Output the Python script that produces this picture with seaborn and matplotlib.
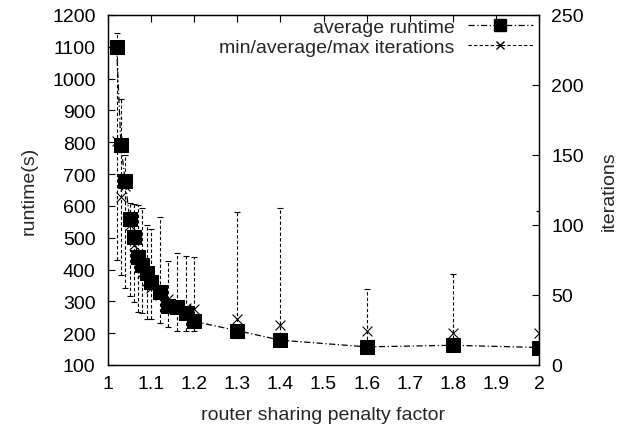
import matplotlib
matplotlib.use("Agg")
import matplotlib.pyplot as plt
import seaborn as sns
import pandas as pd
import numpy as np
from matplotlib.lines import Line2D

# ---- data ----
penalty = [1.02, 1.03, 1.04, 1.05, 1.06, 1.07, 1.08, 1.09, 1.10, 1.12,
           1.14, 1.16, 1.18, 1.20, 1.30, 1.40, 1.60, 1.80, 2.00]
runtime = [1100, 790, 677, 560, 502, 440, 413, 388, 360, 330,
           287, 283, 262, 237, 208, 178, 157, 162, 155]
iter_avg = [160, 120, 128, 100, 86, 76, 66, 60, 55, 50,
            47, 42, 41, 40, 33, 28.5, 24, 23, 23]
iter_min = [75, 64, 55, 49, 45, 38, 37, 33, 33, 30,
            27, 24, 24, 24, 19, 17, 14, 15, 14]
iter_max = [237, 190, 150, 116, 115, 114, 112, 100, 97, 106,
            74, 80, 78, 77, 109, 112, 54, 65, 110]

x_ticks = [1.0, 1.1, 1.2, 1.3, 1.4, 1.5, 1.6, 1.7, 1.8, 1.9, 2.0]
x_ticklabels = ["1", "1.1", "1.2", "1.3", "1.4", "1.5", "1.6", "1.7", "1.8", "1.9", "2"]
y_ticks = [100, 200, 300, 400, 500, 600, 700, 800, 900, 1000, 1100, 1200]
y2_ticks = [0, 50, 100, 150, 200, 250]

df = pd.DataFrame({"penalty": penalty, "runtime": runtime, "iter_avg": iter_avg,
                   "iter_min": iter_min, "iter_max": iter_max})

sns.set_theme(style="white")
plt.rcParams["font.family"] = ["Liberation Sans", "DejaVu Sans"]
FS = 14

fig = plt.figure(figsize=(6.21, 4.31), dpi=100)
ax = fig.add_axes([108 / 621, 1 - 366 / 431, (539 - 108) / 621, 350 / 431])
ax2 = ax.twinx()

# iterations: min/avg/max
yerr = np.array([df["iter_avg"] - df["iter_min"], df["iter_max"] - df["iter_avg"]])
eb = ax2.errorbar(df["penalty"], df["iter_avg"], yerr=yerr, fmt="none",
                  ecolor="black", elinewidth=0.8, capsize=2, capthick=0.8)
for lc in eb[2]:
    lc.set_linestyle((0, (3, 2)))
sns.scatterplot(data=df, x="penalty", y="iter_avg", ax=ax2, marker="x",
                color="black", s=50, linewidth=0.8, legend=False, zorder=3)

# runtime
sns.lineplot(data=df, x="penalty", y="runtime", ax=ax, color="black",
             linestyle=(0, (5, 2, 1, 2)), linewidth=0.9, marker="s",
             markersize=10, markeredgecolor="black", markerfacecolor="black",
             legend=False, zorder=4)

ax.set_zorder(ax2.get_zorder() + 1)
ax.patch.set_visible(False)

ax.set_xlim(1.0, 2.0)
ax.set_ylim(100, 1200)
ax2.set_ylim(0, 250)
ax.set_xticks(x_ticks)
ax.set_xticklabels(x_ticklabels)
ax.set_yticks(y_ticks)
ax2.set_yticks(y2_ticks)

ax.tick_params(axis="x", direction="in", length=5, width=0.8, top=True,
               labelsize=FS, pad=7, colors="black")
ax.tick_params(axis="y", direction="in", length=5, width=0.8, left=True, right=False,
               labelsize=FS, pad=9, colors="black")
ax2.tick_params(axis="y", direction="in", length=5, width=0.8, right=True,
                labelsize=FS, pad=9, colors="black")

for a in (ax, ax2):
    for s in a.spines.values():
        s.set_color("black")
        s.set_linewidth(0.9)

ax.set_xlabel("router sharing penalty factor", fontsize=FS, labelpad=10)
ax.set_ylabel("runtime(s)", fontsize=FS, labelpad=10)
ax2.set_ylabel("iterations", fontsize=FS, labelpad=12)

h1 = Line2D([], [], color="black", linestyle=(0, (5, 2, 1, 2)), linewidth=0.9,
            marker="s", markersize=9, markerfacecolor="black")
h2 = Line2D([], [], color="black", linestyle=(0, (3, 2)), linewidth=0.8,
            marker="x", markersize=6)
leg = ax.legend([h1, h2], ["average runtime", "min/average/max iterations"],
                loc="upper right", bbox_to_anchor=(0.985, 0.99), frameon=False,
                markerfirst=False, fontsize=FS, handlelength=3.3,
                borderpad=0, borderaxespad=0, labelspacing=0.1, handletextpad=0.7)

fig.savefig("out.png", dpi=100)
